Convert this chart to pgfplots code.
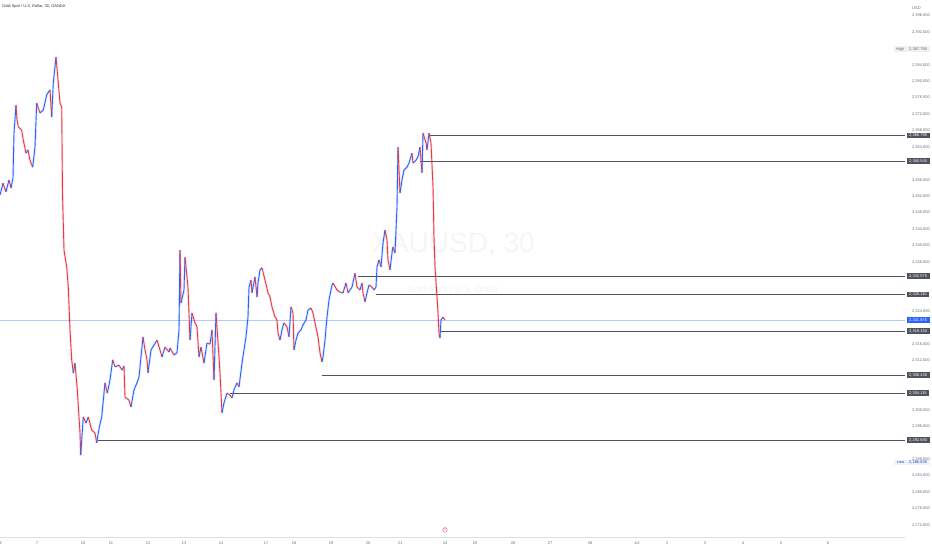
\documentclass[border=0pt]{standalone}
\usepackage{pgfplots}
\pgfplotsset{compat=1.18}
\usepackage{pgfplotstable}
\usepackage{fontspec}
\setmainfont{Liberation Sans}
\definecolor{upblue}{HTML}{2962FF}
\definecolor{dnred}{HTML}{E53945}
\definecolor{lvl}{HTML}{50535E}
\definecolor{tick}{HTML}{6A6D78}
\pgfplotstableread{
x c u
0 2352.3 1
3 2355.2 0
6 2353.1 1
9 2356.0 0
11 2354.0 1
13 2356.5 1
14 2367.4 1
16 2374.2 0
17 2370.6 0
18.3 2368.9 0
21.7 2368.1 0
23.3 2365.7 0
26 2362.5 1
28 2363.3 0
30 2360.8 0
32.7 2359.1 1
35 2364.0 1
36.7 2374.7 0
40 2372.3 1
43.3 2373.0 1
46.7 2376.7 1
50 2377.9 0
51.7 2371.3 1
53.3 2379.6 1
56 2385.9 0
58.3 2379.6 0
60 2374.7 0
61.7 2373.7 0
62.5 2352.8 0
64 2338.9 0
66.7 2334.8 0
68.3 2329.9 0
70 2319.5 0
71.7 2312.2 0
73.3 2309.0 1
75 2311.4 0
77.3 2304.9 0
80 2294.4 0
80.7 2289.0 1
83.3 2298.3 0
86 2296.8 1
88.3 2298.3 0
91.7 2295.1 0
95 2294.4 0
96.7 2292.0 1
99.3 2295.8 1
101.7 2298.3 1
105 2306.6 0
107.3 2304.1 1
110 2307.3 1
112.7 2312.2 0
115 2310.5 1
119 2310.9 0
122 2309.7 1
124 2310.7 0
125 2303.1 0
129 2302.4 0
131 2300.7 1
134 2304.9 1
137 2306.6 1
139 2308.0 1
141 2312.9 1
143 2317.8 0
145 2314.6 0
147 2312.2 0
148 2309.0 1
151 2314.6 1
154 2315.8 1
157 2317.0 0
160 2314.6 0
162 2312.9 1
165 2315.3 0
169 2314.1 1
170 2315.1 0
174 2313.4 1
177 2313.9 1
179 2319.5 1
180 2338.9 0
181 2326.0 1
184 2329.2 1
185 2337.2 0
188 2329.9 0
190 2317.0 1
192 2323.6 0
195 2321.2 0
197 2320.2 0
199 2312.9 1
201 2315.3 0
204 2311.4 1
207 2316.3 0
210 2316.0 1
212 2319.5 0
214 2307.3 1
216 2323.6 0
219 2312.9 0
220 2309.0 0
222 2299.3 1
224 2301.7 1
227 2304.1 0
230 2303.6 0
232 2302.9 1
234 2304.9 1
237 2306.6 0
239 2305.6 1
242 2311.4 1
244 2314.6 1
246 2317.8 1
248 2322.6 1
249 2329.9 1
251 2331.6 0
252 2328.5 1
255 2332.4 0
257 2327.5 1
258 2330.9 1
260 2334.1 1
262 2334.6 0
265 2331.6 0
268 2328.5 0
270 2327.5 0
272 2325.1 0
275 2322.6 0
277 2321.9 0
278 2318.7 0
280 2317.0 1
282 2319.5 1
284 2321.2 0
287 2320.2 0
289 2317.8 1
291 2325.1 0
293 2323.6 0
294 2314.6 1
296 2317.0 1
298 2318.7 1
301 2319.5 1
303 2320.7 1
306 2321.9 1
308 2324.3 1
311 2324.8 0
313 2323.6 0
315 2321.2 0
318 2317.8 0
320 2313.9 0
322 2311.7 1
323 2312.9 1
325 2317.0 1
327 2322.6 1
329 2326.8 1
332 2330.4 1
333 2330.9 0
337 2329.2 0
340 2328.7 0
343 2328.5 1
346 2330.9 0
348 2328.5 1
352 2329.9 1
355 2333.3 0
357 2329.9 0
360 2329.2 1
362 2330.9 0
363 2328.5 0
365 2326.3 1
367 2328.5 1
369 2330.4 0
372 2329.9 0
374 2329.2 1
376 2329.9 1
377 2334.8 1
379 2336.5 0
381 2334.8 1
383 2340.6 1
385 2343.8 0
387 2341.4 0
388 2336.5 0
390 2334.1 1
392 2338.2 1
393 2339.7 0
395 2338.2 1
397 2349.4 1
398 2364.0 0
400 2352.8 1
402 2356.0 1
404 2358.4 1
407 2359.1 1
409 2360.1 1
412 2362.5 0
413 2360.1 1
416 2360.8 1
418 2361.6 1
420 2364.0 0
422 2357.7 1
423 2367.4 0
426 2365.0 0
427 2363.3 1
429 2367.4 0
431 2365.0 0
433 2354.3 0
434 2342.1 0
435 2334.8 0
437 2327.5 0
438 2323.6 0
439 2318.7 0
440 2317.5 1
441 2321.9 1
443 2322.6 0
445 2321.9 0
}\price
\pgfplotsset{colormap={updown}{color=(dnred) color=(upblue)}}
\begin{document}
\begin{tikzpicture}[x=1pt,y=1pt]
\useasboundingbox (0,0) rectangle (932,550);
\begin{axis}[
  at={(0pt,13pt)}, anchor=south west,
  scale only axis, width=905pt, height=537pt,
  xmin=0, xmax=905, ymin=2269.07, ymax=2399.79,
  clip mode=individual,
  axis x line*=bottom, axis y line*=right,
  x axis line style={draw=black!12,-},
  y axis line style={draw=none},
  major tick length=0pt,
  xtick={0.7,37,83,111,148,184,221,266,294,331,368,400,445,475,513,550,590,637,667,705,743,781,828},
  xticklabels={6,7,10,11,12,13,14,17,18,19,20,21,24,25,26,27,28,Jul,2,3,4,5,6},
  xticklabel style={font=\fontsize{4}{4}\selectfont, text=tick, yshift=-1pt},
  ytick={2272,2276,2280,2284,2288,2296,2300,2312,2316,2324,2336,2340,2344,2348,2352,2356,2364,2368,2372,2376,2380,2384,2392,2396},
  yticklabel pos=right,
  yticklabel style={anchor=west, xshift=3.5pt, font=\fontsize{4}{4}\selectfont, text=tick,
    /pgf/number format/.cd, fixed, fixed zerofill, precision=3, 1000 sep={,}, assume math mode=true},
  point meta min=0, point meta max=1,
  colormap name=updown,
]
% watermark
\node[text=black!4, font=\fontsize{28}{28}\selectfont] at (axis cs:453,2340.3) {XAUUSD, 30};
\node[text=black!5, font=\fontsize{9}{9}\selectfont] at (axis cs:453,2329.2) {Gold Spot / U.S. Dollar};
% current price line
\addplot[draw=upblue!35, line width=0.5pt, forget plot] coordinates {(0,2321.875) (905,2321.875)};
% level lines
\addplot[draw=lvl, line width=0.8pt] coordinates {(430,2366.795) (905,2366.795)};
\addplot[draw=lvl, line width=0.8pt] coordinates {(420,2360.545) (905,2360.545)};
\addplot[draw=lvl, line width=0.8pt] coordinates {(358,2332.575) (905,2332.575)};
\addplot[draw=lvl, line width=0.8pt] coordinates {(376,2328.110) (905,2328.110)};
\addplot[draw=lvl, line width=0.8pt] coordinates {(440,2319.150) (905,2319.150)};
\addplot[draw=lvl, line width=0.8pt] coordinates {(322,2308.430) (905,2308.430)};
\addplot[draw=lvl, line width=0.8pt] coordinates {(230,2304.115) (905,2304.115)};
\addplot[draw=lvl, line width=0.8pt] coordinates {(98,2292.680) (905,2292.680)};
% price: faint wick halo then line
\addplot[mesh, shader=flat corner, point meta=\thisrow{u}, line width=2.4pt, opacity=0.15] table[x=x,y=c] {\price};
\addplot[mesh, shader=flat corner, point meta=\thisrow{u}, line width=0.9pt] table[x=x,y=c] {\price};
% labels on price scale
\tikzset{bx/.style={anchor=west, xshift=1.5pt, inner xsep=2.5pt, inner ysep=1.2pt, text=white, font=\fontsize{4}{4}\selectfont, fill=lvl}}
\node[bx] at (axis cs:905,2366.795) {2,366.795};
\node[bx] at (axis cs:905,2360.545) {2,360.545};
\node[bx] at (axis cs:905,2332.575) {2,332.575};
\node[bx] at (axis cs:905,2328.110) {2,328.110};
\node[bx, fill=upblue] at (axis cs:905,2321.875) {2,321.875};
\node[bx] at (axis cs:905,2319.150) {2,319.150};
\node[bx] at (axis cs:905,2308.430) {2,308.430};
\node[bx] at (axis cs:905,2304.115) {2,304.115};
\node[bx] at (axis cs:905,2292.680) {2,292.680};
\node[bx, fill=black!6, text=tick] at (axis cs:905,2387.785) {2,387.785};
\node[bx, fill=black!6, text=tick, anchor=east, xshift=0.5pt] at (axis cs:905,2387.785) {High};
\node[bx, fill=upblue!8, text=upblue!70!black] at (axis cs:905,2287.2) {2,286.830};
\node[bx, fill=upblue!8, text=upblue!70!black, anchor=east, xshift=0.5pt] at (axis cs:905,2287.2) {Low};
\node[anchor=west, fill=white, inner sep=1pt, text=tick, font=\fontsize{4}{4}\selectfont, xshift=6pt] at (axis cs:905,2397.8) {USD};
\node[anchor=west, inner sep=0pt, text=black!80, font=\fontsize{4}{4}\selectfont] at (axis cs:2,2398.1) {Gold Spot / U.S. Dollar, 30, OANDA};
\node[circle, draw=magenta!70, inner sep=0.6pt, text=magenta!70, font=\fontsize{3}{3}\selectfont] at (axis cs:445,2270.8) {\$};
\end{axis}
\end{tikzpicture}
\end{document}
